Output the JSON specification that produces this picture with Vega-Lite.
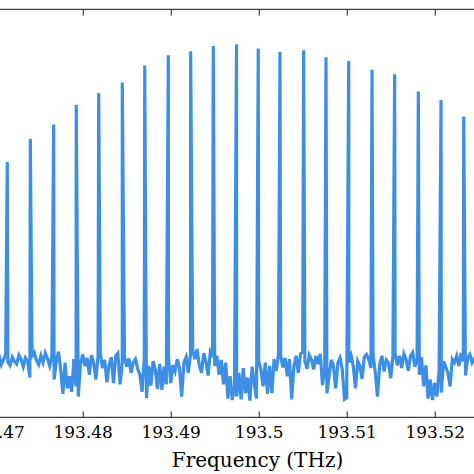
{
  "$schema": "https://vega.github.io/schema/vega-lite/v6.json",
  "width": 481.2,
  "height": 408,
  "autosize": {"type": "none"},
  "padding": {"left": -6.2, "right": 0, "top": 9, "bottom": 57},
  "background": "white",
  "config": {"view": {"stroke": "#404040", "strokeWidth": 1.2}, "font": "DejaVu Serif"},
  "datasets": {
    "noise": [
      {"f":193.47,"p":-51.5},{"f":193.47025,"p":-52.0},{"f":193.4705,"p":-51.0},{"f":193.47075,"p":-52.3},{"f":193.471,"p":-51.6},
      {"f":193.47125,"p":-50.8},{"f":193.4715,"p":-51.9},{"f":193.47175,"p":-52.4},{"f":193.472,"p":-51.2},{"f":193.47225,"p":-51.8},
      {"f":193.4725,"p":-52.2},{"f":193.47275,"p":-50.9},{"f":193.473,"p":-51.5},{"f":193.47325,"p":-52.6},{"f":193.4735,"p":-51.3},
      {"f":193.47375,"p":-51.8},{"f":193.474,"p":-54.2},{"f":193.47425,"p":-51.0},{"f":193.4745,"p":-50.5},{"f":193.47475,"p":-51.7},
      {"f":193.475,"p":-52.3},{"f":193.47525,"p":-51.0},{"f":193.4755,"p":-52.0},{"f":193.47575,"p":-50.6},{"f":193.476,"p":-51.4},
      {"f":193.47625,"p":-52.5},{"f":193.4765,"p":-51.1},{"f":193.47675,"p":-54.5},{"f":193.477,"p":-51.8},{"f":193.47725,"p":-50.4},
      {"f":193.4775,"p":-53.0},{"f":193.47775,"p":-56.6},{"f":193.478,"p":-52.0},{"f":193.47825,"p":-55.8},{"f":193.4785,"p":-54.0},
      {"f":193.47875,"p":-56.3},{"f":193.479,"p":-51.5},{"f":193.47925,"p":-55.5},{"f":193.4795,"p":-57.0},{"f":193.47975,"p":-52.2},
      {"f":193.48,"p":-50.8},{"f":193.48025,"p":-52.5},{"f":193.4805,"p":-51.3},{"f":193.48075,"p":-53.8},{"f":193.481,"p":-50.9},
      {"f":193.48125,"p":-52.0},{"f":193.4815,"p":-54.5},{"f":193.48175,"p":-51.0},{"f":193.482,"p":-50.5},{"f":193.48225,"p":-52.8},
      {"f":193.4825,"p":-51.6},{"f":193.48275,"p":-54.9},{"f":193.483,"p":-52.4},{"f":193.48325,"p":-51.2},{"f":193.4835,"p":-55.0},
      {"f":193.48375,"p":-51.0},{"f":193.484,"p":-50.6},{"f":193.48425,"p":-55.2},{"f":193.4845,"p":-52.0},{"f":193.48475,"p":-51.1},
      {"f":193.485,"p":-52.6},{"f":193.48525,"p":-51.4},{"f":193.4855,"p":-53.5},{"f":193.48575,"p":-52.0},{"f":193.486,"p":-51.5},
      {"f":193.48625,"p":-52.9},{"f":193.4865,"p":-53.8},{"f":193.48675,"p":-56.3},{"f":193.487,"p":-51.2},{"f":193.48725,"p":-57.2},
      {"f":193.4875,"p":-52.5},{"f":193.48775,"p":-55.4},{"f":193.488,"p":-51.8},{"f":193.48825,"p":-53.0},{"f":193.4885,"p":-55.9},
      {"f":193.48875,"p":-52.2},{"f":193.489,"p":-56.0},{"f":193.48925,"p":-52.6},{"f":193.4895,"p":-55.2},{"f":193.48975,"p":-51.0},
      {"f":193.49,"p":-55.0},{"f":193.49025,"p":-52.4},{"f":193.4905,"p":-53.3},{"f":193.49075,"p":-51.5},{"f":193.491,"p":-52.8},
      {"f":193.49125,"p":-57.0},{"f":193.4915,"p":-52.0},{"f":193.49175,"p":-51.2},{"f":193.492,"p":-53.5},{"f":193.49225,"p":-50.8},
      {"f":193.4925,"p":-50.2},{"f":193.49275,"p":-51.5},{"f":193.493,"p":-50.0},{"f":193.49325,"p":-52.4},{"f":193.4935,"p":-53.5},
      {"f":193.49375,"p":-50.6},{"f":193.494,"p":-51.8},{"f":193.49425,"p":-53.9},{"f":193.4945,"p":-50.5},{"f":193.49475,"p":-51.2},
      {"f":193.495,"p":-52.5},{"f":193.49525,"p":-51.0},{"f":193.4955,"p":-53.8},{"f":193.49575,"p":-51.6},{"f":193.496,"p":-55.2},
      {"f":193.49625,"p":-52.0},{"f":193.4965,"p":-57.3},{"f":193.49675,"p":-54.0},{"f":193.497,"p":-57.5},{"f":193.49725,"p":-55.5},
      {"f":193.4975,"p":-57.0},{"f":193.49775,"p":-53.5},{"f":193.498,"p":-57.4},{"f":193.49825,"p":-52.8},{"f":193.4985,"p":-56.5},
      {"f":193.49875,"p":-54.2},{"f":193.499,"p":-57.6},{"f":193.49925,"p":-52.6},{"f":193.4995,"p":-55.0},{"f":193.49975,"p":-57.3},
      {"f":193.5,"p":-51.8},{"f":193.50025,"p":-53.0},{"f":193.5005,"p":-55.5},{"f":193.50075,"p":-52.0},{"f":193.501,"p":-56.6},
      {"f":193.50125,"p":-52.5},{"f":193.5015,"p":-56.5},{"f":193.50175,"p":-51.5},{"f":193.502,"p":-53.2},{"f":193.50225,"p":-50.8},
      {"f":193.5025,"p":-51.0},{"f":193.50275,"p":-52.7},{"f":193.503,"p":-51.3},{"f":193.50325,"p":-54.0},{"f":193.5035,"p":-51.5},
      {"f":193.50375,"p":-57.4},{"f":193.504,"p":-52.6},{"f":193.50425,"p":-51.0},{"f":193.5045,"p":-53.5},{"f":193.50475,"p":-50.7},
      {"f":193.505,"p":-50.5},{"f":193.50525,"p":-51.8},{"f":193.5055,"p":-52.9},{"f":193.50575,"p":-50.9},{"f":193.506,"p":-51.6},
      {"f":193.50625,"p":-53.0},{"f":193.5065,"p":-51.0},{"f":193.50675,"p":-52.2},{"f":193.507,"p":-50.7},{"f":193.50725,"p":-55.3},
      {"f":193.5075,"p":-53.0},{"f":193.50775,"p":-56.5},{"f":193.508,"p":-54.0},{"f":193.50825,"p":-51.6},{"f":193.5085,"p":-52.5},
      {"f":193.50875,"p":-55.8},{"f":193.509,"p":-52.0},{"f":193.50925,"p":-51.3},{"f":193.5095,"p":-53.0},{"f":193.50975,"p":-57.4},
      {"f":193.51,"p":-57.2},{"f":193.51025,"p":-52.0},{"f":193.5105,"p":-51.0},{"f":193.51075,"p":-52.6},{"f":193.511,"p":-55.8},
      {"f":193.51125,"p":-51.8},{"f":193.5115,"p":-52.5},{"f":193.51175,"p":-54.4},{"f":193.512,"p":-51.2},{"f":193.51225,"p":-50.8},
      {"f":193.5125,"p":-51.5},{"f":193.51275,"p":-52.8},{"f":193.513,"p":-51.0},{"f":193.51325,"p":-53.5},{"f":193.5135,"p":-57.0},
      {"f":193.51375,"p":-52.3},{"f":193.514,"p":-51.0},{"f":193.51425,"p":-53.3},{"f":193.5145,"p":-51.6},{"f":193.51475,"p":-52.0},
      {"f":193.515,"p":-54.3},{"f":193.51525,"p":-51.2},{"f":193.5155,"p":-50.6},{"f":193.51575,"p":-52.4},{"f":193.516,"p":-51.0},
      {"f":193.51625,"p":-52.8},{"f":193.5165,"p":-50.7},{"f":193.51675,"p":-51.5},{"f":193.517,"p":-53.2},{"f":193.51725,"p":-51.0},
      {"f":193.5175,"p":-50.5},{"f":193.51775,"p":-52.6},{"f":193.518,"p":-51.5},{"f":193.51825,"p":-53.8},{"f":193.5185,"p":-51.2},
      {"f":193.51875,"p":-55.5},{"f":193.519,"p":-52.4},{"f":193.51925,"p":-57.3},{"f":193.5195,"p":-54.5},{"f":193.51975,"p":-57.5},
      {"f":193.52,"p":-55.0},{"f":193.52025,"p":-57.0},{"f":193.5205,"p":-53.2},{"f":193.52075,"p":-56.4},{"f":193.521,"p":-51.8},
      {"f":193.52125,"p":-52.6},{"f":193.5215,"p":-53.5},{"f":193.52175,"p":-55.5},{"f":193.522,"p":-51.5},{"f":193.52225,"p":-52.0},
      {"f":193.5225,"p":-51.0},{"f":193.52275,"p":-52.5},{"f":193.523,"p":-50.6},{"f":193.52325,"p":-51.8},{"f":193.5235,"p":-53.9},
      {"f":193.52375,"p":-51.3},{"f":193.524,"p":-50.8},{"f":193.52425,"p":-52.0},{"f":193.5245,"p":-51.4},{"f":193.52475,"p":-52.2},
      {"f":193.525,"p":-51.7},
      {"f":193.47143,"p":-22.5},{"f":193.47405,"p":-19.1},{"f":193.4767,"p":-17.0},{"f":193.47927,"p":-14.1},{"f":193.48182,"p":-12.35},
      {"f":193.4845,"p":-10.8},{"f":193.48705,"p":-8.3},{"f":193.48973,"p":-6.8},{"f":193.49227,"p":-6.2},{"f":193.49484,"p":-5.45},
      {"f":193.49748,"p":-5.2},{"f":193.49995,"p":-5.8},{"f":193.50242,"p":-6.3},{"f":193.50511,"p":-6.05},{"f":193.50765,"p":-7.1},
      {"f":193.51023,"p":-7.65},{"f":193.51288,"p":-8.95},{"f":193.51545,"p":-9.6},{"f":193.51814,"p":-12.15},{"f":193.52072,"p":-13.4},
      {"f":193.5233,"p":-15.8}
    ]
  },
  "data": {"name": "noise"},
  "resolve": {"scale": {"x": "independent"}, "axis": {"x": "independent"}},
  "layer": [
    {
      "mark": {"type": "line", "clip": true, "color": "#3d8fe6", "strokeWidth": 3.2, "strokeJoin": "miter"},
      "encoding": {
        "x": {
          "field": "f", "type": "quantitative",
          "scale": {"domain": [193.4699, 193.52458], "nice": false, "zero": false},
          "axis": {
            "orient": "bottom",
            "values": [193.47, 193.48, 193.49, 193.5, 193.51, 193.52],
            "format": ".2~f",
            "grid": false,
            "domain": false, "ticks": true,
            "tickColor": "#404040", "tickSize": -6, "tickWidth": 1.2,
            "labelFont": "DejaVu Serif", "labelFontSize": 17, "labelColor": "#000",
            "labelBaseline": "alphabetic", "labelPadding": 26,
            "labelOverlap": false, "labelFlush": false, "labelBound": false,
            "title": "Frequency (THz)",
            "titleFont": "DejaVu Serif", "titleFontSize": 20, "titleFontWeight": "normal",
            "titleColor": "#000", "titleBaseline": "alphabetic",
            "titleX": 263.2, "titleY": 49, "titleAnchor": "middle", "titleAlign": "center"
          }
        },
        "y": {
          "field": "p", "type": "quantitative",
          "scale": {"domain": [-60, 0], "nice": false, "zero": false},
          "axis": null
        }
      }
    },
    {
      "mark": {"type": "line", "opacity": 0, "clip": true},
      "encoding": {
        "x": {
          "field": "f", "type": "quantitative",
          "scale": {"domain": [193.4699, 193.52458], "nice": false, "zero": false},
          "axis": {
            "orient": "top",
            "values": [193.47, 193.48, 193.49, 193.5, 193.51, 193.52],
            "labels": false, "grid": false, "title": null,
            "domain": false, "ticks": true,
            "tickColor": "#404040", "tickSize": -6, "tickWidth": 1.2
          }
        },
        "y": {
          "field": "p", "type": "quantitative",
          "scale": {"domain": [-60, 0], "nice": false, "zero": false},
          "axis": null
        }
      }
    }
  ]
}
